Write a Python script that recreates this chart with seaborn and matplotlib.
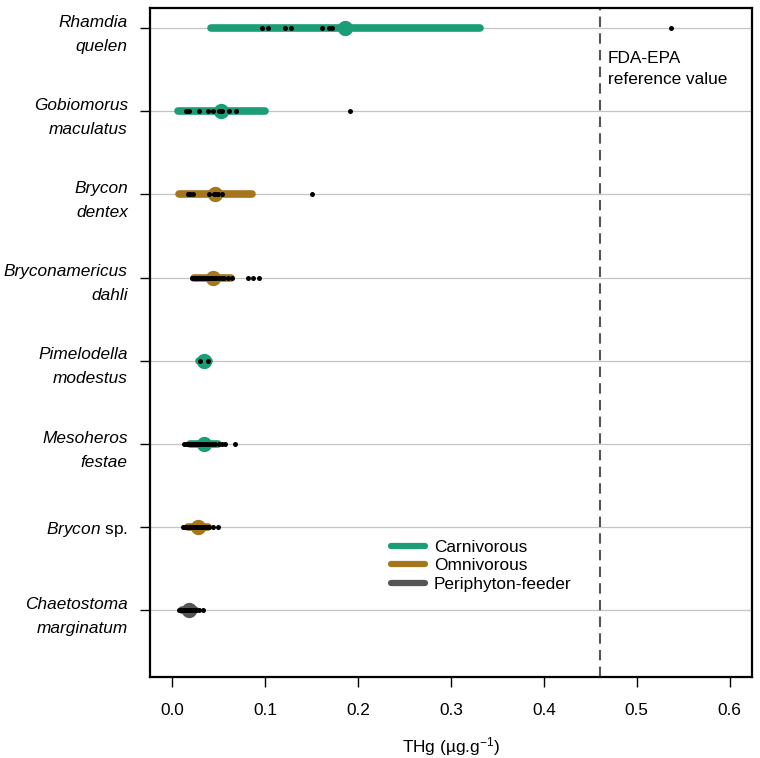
import matplotlib

matplotlib.use("Agg")
import matplotlib.pyplot as plt
import pandas as pd
import seaborn as sns
from matplotlib.lines import Line2D

# species, top to bottom
species = [
    "Rhamdia quelen",
    "Gobiomorus maculatus",
    "Brycon dentex",
    "Bryconamericus dahli",
    "Pimelodella modestus",
    "Mesoheros festae",
    "Brycon sp.",
    "Chaetostoma marginatum",
]
tick_labels = [
    "Rhamdia\nquelen",
    "Gobiomorus\nmaculatus",
    "Brycon\ndentex",
    "Bryconamericus\ndahli",
    "Pimelodella\nmodestus",
    "Mesoheros\nfestae",
    r"$\mathit{Brycon}$ sp.",
    "Chaetostoma\nmarginatum",
]
diets = [
    "Carnivorous",
    "Carnivorous",
    "Omnivorous",
    "Omnivorous",
    "Carnivorous",
    "Carnivorous",
    "Omnivorous",
    "Periphyton-feeder",
]

# THg per individual (ug/g)
rhamdia = [0.097, 0.103, 0.1215, 0.128, 0.161, 0.169, 0.172, 0.537]
gobiomorus = [0.015, 0.016, 0.018, 0.029, 0.038, 0.044, 0.050, 0.051, 0.053,
              0.061, 0.069, 0.191]
brycon_dentex = [0.017, 0.018, 0.019, 0.022, 0.040, 0.045, 0.047, 0.049, 0.054, 0.150]
bryconamericus = [0.021, 0.022, 0.023, 0.025, 0.025, 0.027, 0.028, 0.029, 0.031,
                  0.032, 0.033, 0.035, 0.037, 0.039, 0.041, 0.043, 0.045, 0.047,
                  0.050, 0.053, 0.056, 0.060, 0.064, 0.082, 0.087, 0.093]
pimelodella = [0.030, 0.038]
mesoheros = [0.013, 0.015, 0.017, 0.019, 0.021, 0.023, 0.025, 0.027, 0.029, 0.031,
             0.033, 0.035, 0.037, 0.040, 0.043, 0.046, 0.050, 0.053, 0.057, 0.067]
brycon_sp = [0.011, 0.013, 0.015, 0.017, 0.019, 0.021, 0.023, 0.025, 0.027, 0.029,
             0.031, 0.033, 0.035, 0.037, 0.040, 0.044, 0.049]
chaetostoma = [0.007, 0.009, 0.010, 0.011, 0.012, 0.013, 0.014, 0.015, 0.016,
               0.017, 0.018, 0.019, 0.020, 0.022, 0.024, 0.026, 0.029, 0.033]
values = [rhamdia, gobiomorus, brycon_dentex, bryconamericus,
          pimelodella, mesoheros, brycon_sp, chaetostoma]

fda_epa = 0.46
x_ticks = [0.0, 0.1, 0.2, 0.3, 0.4, 0.5, 0.6]
palette = {"Carnivorous": "#1b9e77", "Omnivorous": "#a6761d", "Periphyton-feeder": "#555555"}

rows = []
for sp, diet, vals in zip(species, diets, values):
    for v in vals:
        rows.append({"species": sp, "diet": diet, "thg": v})
df = pd.DataFrame(rows)

sns.set_style("white")
plt.rcParams["font.family"] = ["Liberation Sans", "DejaVu Sans"]
plt.rcParams["mathtext.fontset"] = "custom"
plt.rcParams["mathtext.it"] = "Liberation Sans:italic"
plt.rcParams["mathtext.rm"] = "Liberation Sans"
plt.rcParams["text.color"] = "black"
plt.rcParams["axes.labelcolor"] = "black"
plt.rcParams["xtick.color"] = "black"
plt.rcParams["ytick.color"] = "black"
fs = 12.4

fig = plt.figure(figsize=(7.6, 7.58), dpi=100)
ax = fig.add_axes([0.1974, 0.1069, 0.792, 0.8825])

sns.pointplot(
    data=df, x="thg", y="species", hue="diet", order=species, palette=palette,
    errorbar="sd", linestyle="none", markers="o", markersize=9,
    err_kws={"linewidth": 5.5, "solid_capstyle": "round"},
    legend=False, ax=ax,
)
sns.stripplot(
    data=df, x="thg", y="species", order=species, jitter=False,
    color="black", size=3.6, linewidth=0, ax=ax, zorder=5,
)

ax.axvline(fda_epa, color="#555555", lw=1.5, ls=(0, (5, 3)), zorder=1)
ax.text(fda_epa + 0.009, 0.28, "FDA-EPA\nreference value", fontsize=fs,
        va="top", ha="left", linespacing=1.5)

ax.set_axisbelow(True)
ax.grid(axis="y", color="#c4c4c4", linewidth=0.9)
ax.grid(axis="x", visible=False)

ax.set_xlim(-0.024, 0.624)
ax.set_ylim(7.8, -0.24)
ax.set_xticks(x_ticks)
ax.set_xticklabels([f"{t:.1f}" for t in x_ticks])
ax.set_yticks(range(len(species)))
ax.set_yticklabels(tick_labels)
for lab in ax.get_yticklabels():
    lab.set_linespacing(1.75)
    if not lab.get_text().startswith("$"):
        lab.set_fontstyle("italic")
ax.tick_params(axis="both", length=7, width=1, labelsize=fs,
               direction="out", left=True, bottom=True)
ax.tick_params(axis="x", pad=12)
ax.tick_params(axis="y", pad=9)
ax.set_xlabel("THg (µg.g$^{-1}$)", fontsize=fs, labelpad=12)
ax.set_ylabel("")
for s in ax.spines.values():
    s.set_color("black")
    s.set_linewidth(1.6)

handles = [Line2D([0], [0], color=palette[d], lw=4.5, solid_capstyle="round")
           for d in palette]
ax.legend(handles, list(palette), loc="center left", bbox_to_anchor=(0.4, 0.166),
          frameon=False, fontsize=fs, handlelength=2.0, handletextpad=0.5,
          labelspacing=0.2, borderpad=0, borderaxespad=0)

fig.savefig("out.png", dpi=100)
